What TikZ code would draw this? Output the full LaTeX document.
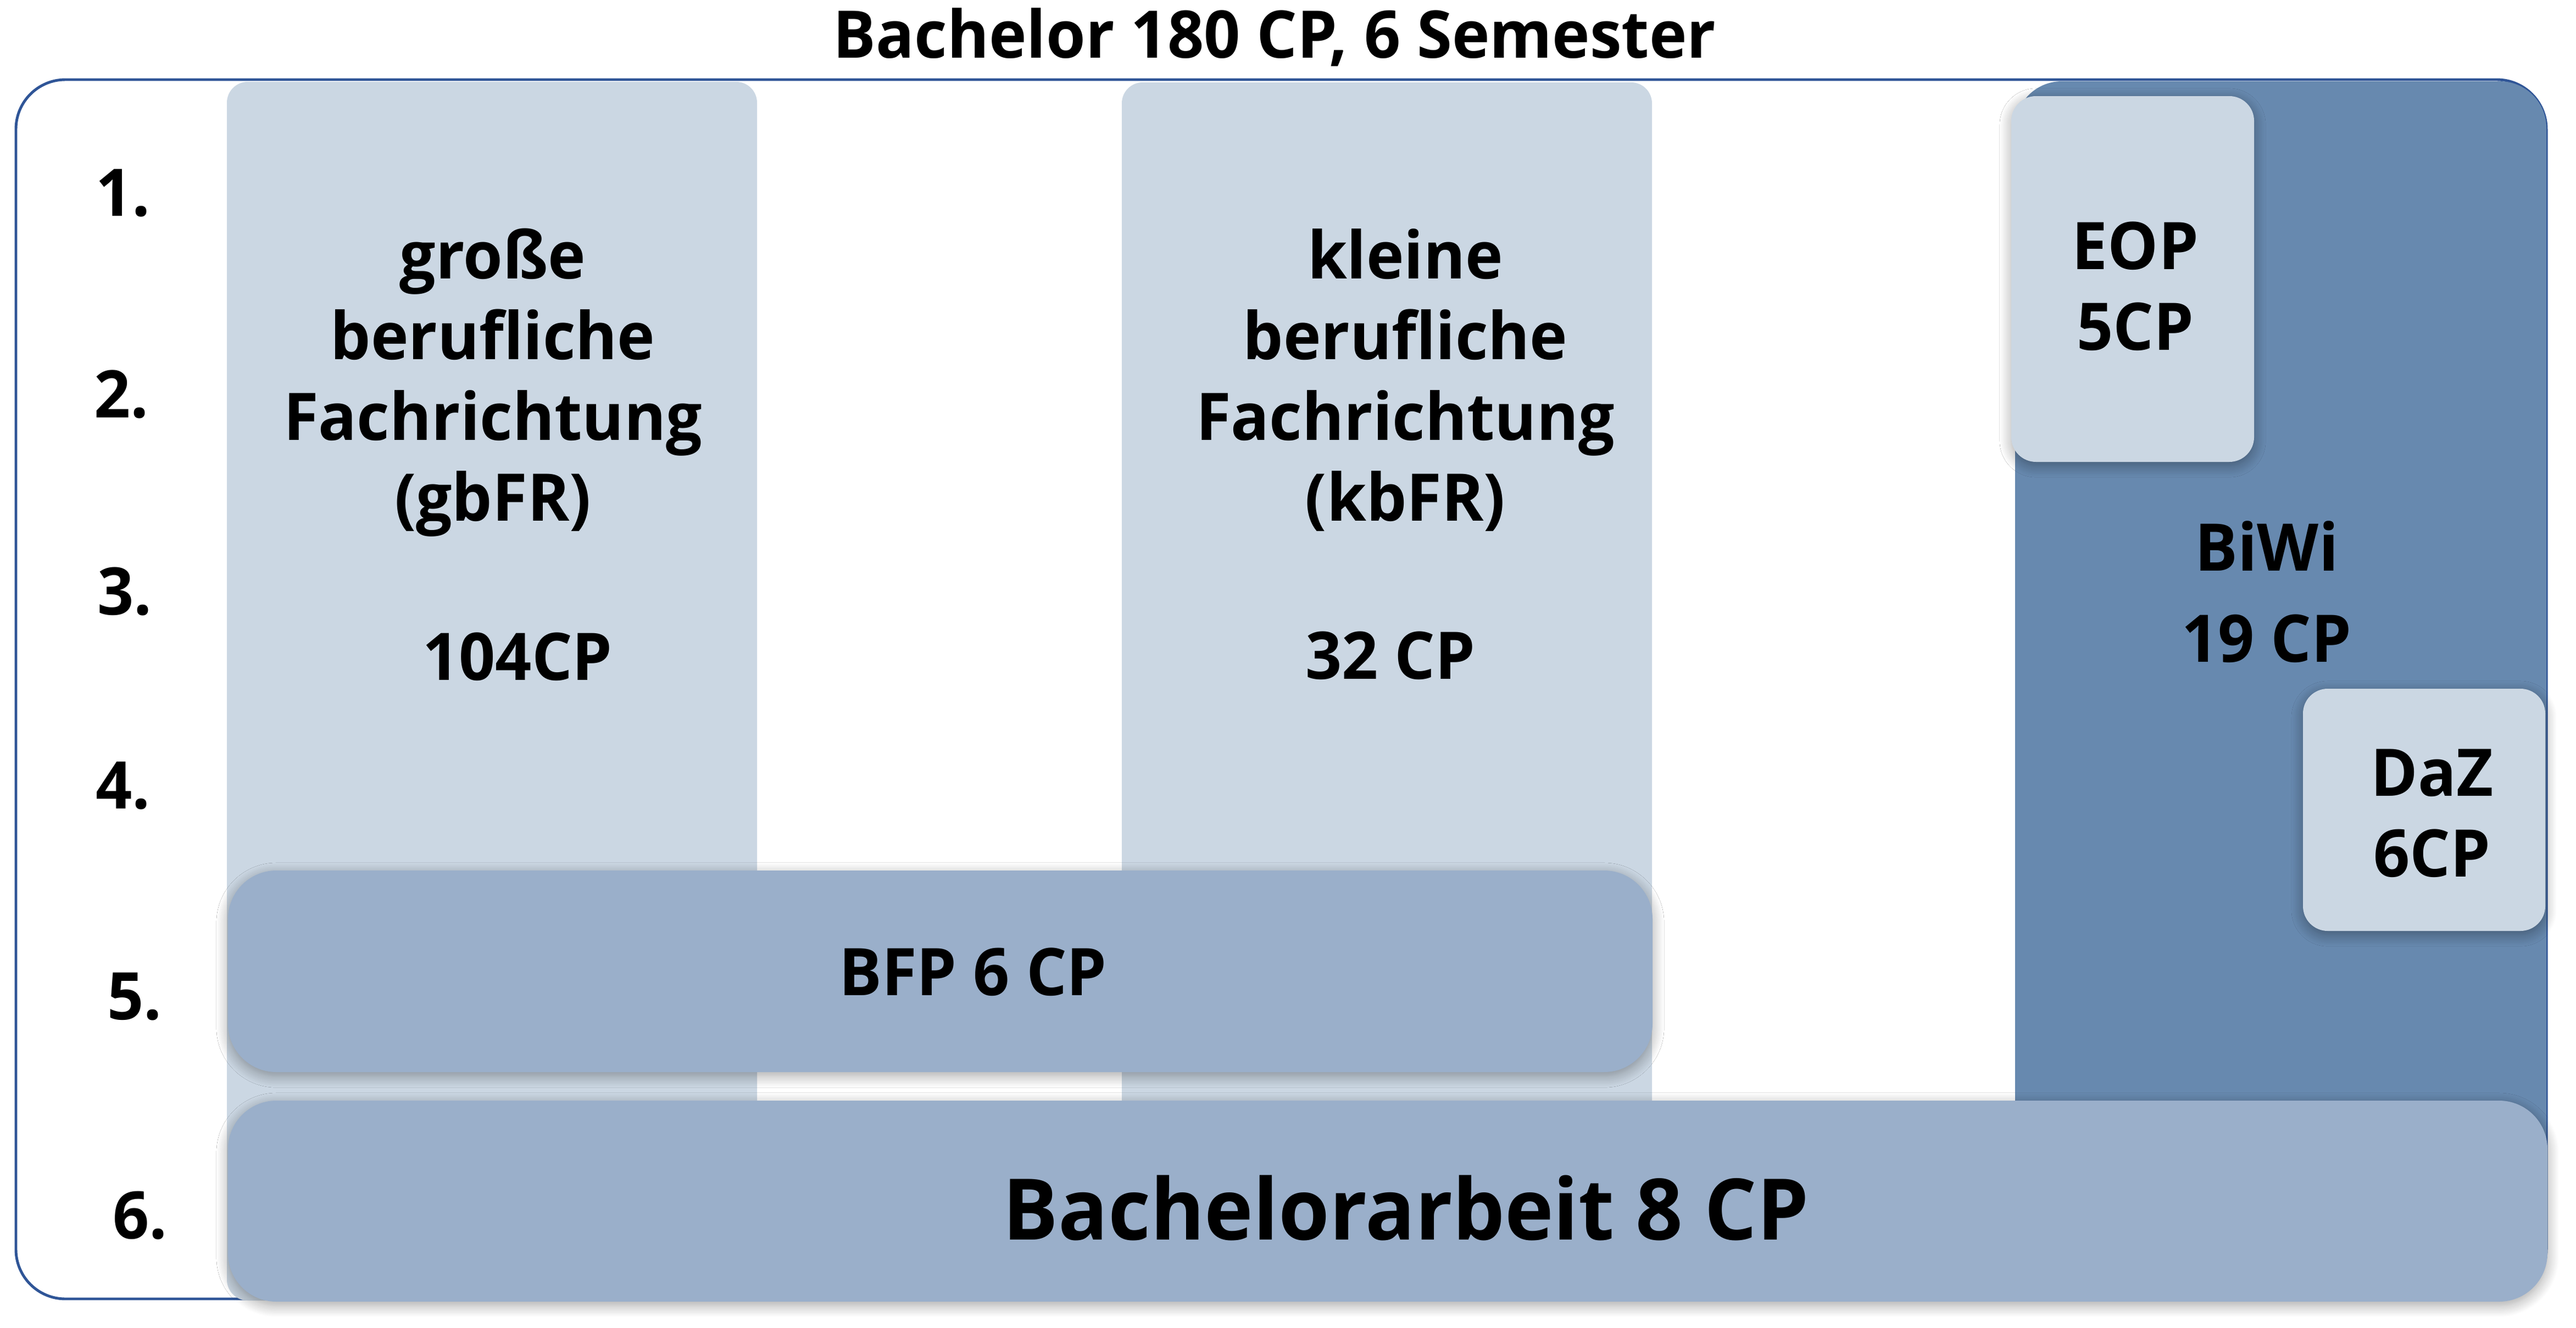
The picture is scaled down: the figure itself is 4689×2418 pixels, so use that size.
\documentclass[tikz,border=0pt]{standalone}
\usepackage{fontspec}
\setmainfont{Open Sans}[FakeStretch=0.97]
\usetikzlibrary{shadows.blur}
\definecolor{lightbox}{HTML}{CBD7E3}
\definecolor{midbox}{HTML}{9AAFCA}
\definecolor{darkbox}{HTML}{6789AF}
\definecolor{frameblue}{HTML}{2F5597}
\begin{document}
\begin{tikzpicture}[x=0.01cm,y=-0.01cm,
  txt/.style={font=\fontsize{34}{41.8}\selectfont\bfseries, align=center, anchor=base, inner sep=0pt},
  bigtxt/.style={font=\fontsize{44}{52}\selectfont\bfseries, align=center, anchor=base, inner sep=0pt},
  softshadow/.style={blur shadow={shadow xshift=0pt, shadow yshift=-2pt, shadow blur radius=6pt, shadow blur steps=12, shadow opacity=35}},
  colbox/.style={fill=lightbox, rounded corners=0.38cm},
  smallbox/.style={fill=lightbox, rounded corners=0.45cm, softshadow},
  barbox/.style={fill=midbox, rounded corners=0.88cm, softshadow}]
\useasboundingbox (0,0) rectangle (4689,2418);
% outer frame
\path[draw=frameblue, line width=1.4pt, fill=white, rounded corners=0.9cm] (29,145) rectangle (4635,2365);
% columns
\path[colbox] (413,149) rectangle (1378,2368);
\path[colbox] (2042,150) rectangle (3007,2368);
% BiWi
\path[fill=darkbox, rounded corners=0.85cm] (3668,148) rectangle (4635,2250);
% EOP, DaZ
\path[smallbox] (3661,175) rectangle (4103,841);
\path[smallbox] (4192,1254) rectangle (4633,1695);
% BFP, Bachelorarbeit
\path[barbox] (415,1585) rectangle (3008,1952);
\path[barbox] (415,2004) rectangle (4637,2370);
% title
\node[txt] (title) at (2320,105) {Bachelor 180 CP, 6 Semester};
% semesters
\node[txt] (s1) at (224,393) {1.};
\node[txt] (s2) at (221,760) {2.};
\node[txt] (s3) at (227,1119) {3.};
\node[txt] (s4) at (224,1472) {4.};
\node[txt] (s5) at (245,1856) {5.};
\node[txt] (s6) at (255,2255) {6.};
% texts (base anchor = baseline of last line)
\node[txt] (gb) at (897,948) {große\\berufliche\\Fachrichtung\\(gbFR)};
\node[txt] (gbcp) at (942,1238) {104CP};
\node[txt] (kb) at (2558,948) {kleine\\berufliche\\Fachrichtung\\(kbFR)};
\node[txt] (kbcp) at (2531,1236) {32 CP};
\node[txt] (eop) at (3887,637) {EOP\\5CP};
\node[txt, font=\fontsize{34}{47.2}\selectfont\bfseries] (biwi) at (4126,1205) {BiWi\\19 CP};
\node[txt] (daz) at (4427,1596) {DaZ\\6CP};
\node[txt] (bfp) at (1771,1812) {BFP 6 CP};
\node[bigtxt] (ba) at (2559,2257) {Bachelorarbeit 8 CP};
\end{tikzpicture}
\end{document}
